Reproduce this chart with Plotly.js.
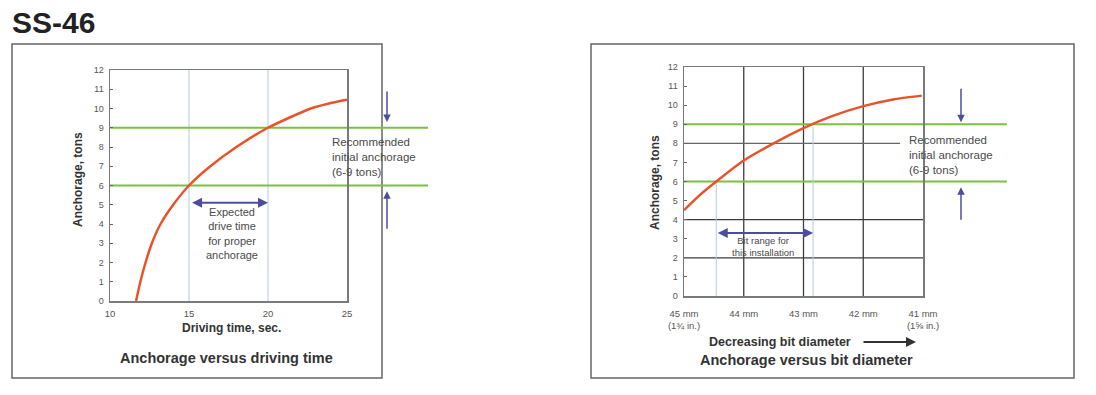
<!DOCTYPE html>
<html>
<head>
<meta charset="utf-8">
<script src="https://cdn.plot.ly/plotly-3.0.1.min.js"></script>
<style>html,body{margin:0;padding:0;background:#fff;}#chart{width:1096px;height:395px;}</style>
</head>
<body>
<div id="chart"></div>
<script>
// ---------- data ----------
const pageTitle = 'SS-46';

// Left chart: anchorage vs driving time
const driveTime = [11.65, 11.92, 12.25, 12.65, 13.2, 14.0, 15.0, 16.35, 18.0, 20.0, 22.7, 23.8, 25.0];
const driveAnchorage = [0, 1, 2, 3, 4, 5, 6, 7, 8, 9, 10, 10.25, 10.45];
const driveTicks = [10, 15, 20, 25];
const driveRangeMarks = [15, 20];          // expected drive time window
const driveWindowArrow = [15.1, 20.0];

// Right chart: anchorage vs bit diameter
const bitDiameter = [45, 44.75, 44.46, 44.0, 43.5, 43.0, 42.5, 42.0, 41.5, 41.02];
const bitAnchorage = [4.5, 5.25, 6.0, 7.1, 8.0, 8.8, 9.45, 9.95, 10.3, 10.5];
const bitTickVals = [45, 44, 43, 42, 41];
const bitTickText = ['45 mm<br>(1¾ in.)', '44 mm', '43 mm', '42 mm', '41 mm<br>(1⅝ in.)'];
const bitRange = [44.46, 42.84];
const bitRangeTop = [6.0, 8.85];
const bitGridX = [44, 43, 42];
const bitGridY = [2, 4, 8];

const anchorTicks = [0,1,2,3,4,5,6,7,8,9,10,11,12];
const recommendedRange = [6, 9];

// ---------- styling ----------
const W = 1096, H = 395;
const px = v => v / W;
const py = v => 1 - v / H;
const FONT = 'Liberation Sans, Arial, sans-serif';
const GREEN = '#7cc043';
const CURVE = '#e9532b';
const ARROW = '#4d4d9e';
const LIGHTBLUE = '#b3c8e4';
const TXT = '#4a4a4a';

function yAxis(domain) {
  return {
    domain: domain, range: [0, 12], tickvals: anchorTicks, ticks: 'inside', ticklen: 3,
    tickcolor: '#666', showgrid: false, zeroline: false, showline: true, mirror: true,
    linecolor: '#7a7a7a', linewidth: 1.5, tickfont: {family: FONT, size: 9, color: '#555'},
    ticklabelstandoff: 3, fixedrange: true
  };
}

const traces = [
  {x: driveTime, y: driveAnchorage, xaxis: 'x', yaxis: 'y', mode: 'lines',
   line: {color: CURVE, width: 2.5, shape: 'spline', smoothing: 0.6}, hoverinfo: 'skip'},
  {x: bitDiameter, y: bitAnchorage, xaxis: 'x2', yaxis: 'y2', mode: 'lines',
   line: {color: CURVE, width: 2.5, shape: 'spline', smoothing: 0.6}, hoverinfo: 'skip'}
];

const shapes = [];
// panel frames
shapes.push({type: 'rect', xref: 'paper', yref: 'paper', x0: px(12), x1: px(382), y0: py(378), y1: py(44),
             line: {color: '#666', width: 1.5}, layer: 'below'});
shapes.push({type: 'rect', xref: 'paper', yref: 'paper', x0: px(591), x1: px(1074), y0: py(378), y1: py(44),
             line: {color: '#666', width: 1.5}, layer: 'below'});
// left: expected drive-time verticals
driveRangeMarks.forEach(v => shapes.push({type: 'line', xref: 'x', yref: 'y domain', x0: v, x1: v, y0: 0, y1: 1,
  line: {color: LIGHTBLUE, width: 1}, layer: 'below'}));
// right: dark grid
bitGridX.forEach(v => shapes.push({type: 'line', xref: 'x2', yref: 'y2 domain', x0: v, x1: v, y0: 0, y1: 1,
  line: {color: '#3c3c3c', width: 1.3}, layer: 'below'}));
bitGridY.forEach(v => shapes.push({type: 'line', xref: 'x2 domain', yref: 'y2', x0: 0, x1: v === 8 ? 0.904 : 1, y0: v, y1: v,
  line: {color: v === 8 ? '#666' : '#3c3c3c', width: 1.3}, layer: 'below'}));
// right: bit range verticals
bitRange.forEach((v, i) => shapes.push({type: 'line', xref: 'x2', yref: 'y2', x0: v, x1: v, y0: 0, y1: bitRangeTop[i],
  line: {color: LIGHTBLUE, width: 1}, layer: 'below'}));
// recommended range green lines (extend beyond plots)
recommendedRange.forEach(v => {
  shapes.push({type: 'line', xref: 'x domain', yref: 'y', x0: 0, x1: 1.342, y0: v, y1: v,
    line: {color: GREEN, width: 2}, layer: 'below'});
  shapes.push({type: 'line', xref: 'x2 domain', yref: 'y2', x0: 0, x1: 1.351, y0: v, y1: v,
    line: {color: GREEN, width: 2}, layer: 'below'});
});

const ann = [];
function txt(text, x, y, opts) {
  return Object.assign({text: text, xref: 'paper', yref: 'paper', x: px(x), y: py(y),
    xanchor: 'center', yanchor: 'middle', showarrow: false}, opts);
}
ann.push(txt('<b>' + pageTitle + '</b>', 10, 23, {xanchor: 'left', font: {family: FONT, size: 30, color: '#222'}}));
// left chart texts
ann.push(txt('<b>Anchorage, tons</b>', 78, 180, {textangle: -90, font: {family: FONT, size: 12, color: '#333'}}));
ann.push(txt('<b>Driving time, sec.</b>', 231, 328, {font: {family: FONT, size: 12, color: '#333'}}));
ann.push(txt('<b>Anchorage versus driving time</b>', 226, 358, {font: {family: FONT, size: 14.5, color: '#333'}}));
ann.push(txt('Recommended<br>initial anchorage<br>(6-9 tons)', 330, 157,
  {xanchor: 'left', align: 'left', font: {family: FONT, size: 11.5, color: TXT}}));
ann.push({text: 'Expected<br>drive time<br>for proper<br>anchorage', xref: 'x', yref: 'y', x: 17.7, y: 3.5,
  xanchor: 'center', yanchor: 'middle', align: 'center', showarrow: false, font: {family: FONT, size: 11, color: TXT}});
ann.push({text: '', xref: 'x', yref: 'y', x: driveWindowArrow[1], y: 5.1, axref: 'x', ayref: 'y',
  ax: driveWindowArrow[0], ay: 5.1, showarrow: true, arrowhead: 2, startarrowhead: 2, arrowside: 'end+start',
  arrowsize: 1, arrowwidth: 2, arrowcolor: ARROW, standoff: 0, startstandoff: 0});
ann.push({text: '', xref: 'paper', yref: 'y', x: px(387), y: 9.3, ax: 0, ay: -32, showarrow: true,
  arrowhead: 2, arrowsize: 1, arrowwidth: 1.5, arrowcolor: ARROW, standoff: 0});
ann.push({text: '', xref: 'paper', yref: 'y', x: px(387), y: 5.7, ax: 0, ay: 39, showarrow: true,
  arrowhead: 2, arrowsize: 1, arrowwidth: 1.5, arrowcolor: ARROW, standoff: 0});
// right chart texts
ann.push(txt('<b>Anchorage, tons</b>', 655, 183, {textangle: -90, font: {family: FONT, size: 12, color: '#333'}}));
ann.push(txt('<b>Decreasing bit diameter</b>', 780, 342, {font: {family: FONT, size: 12.5, color: '#333'}}));
ann.push({text: '', xref: 'paper', yref: 'paper', x: px(916), y: py(342), ax: -54, ay: 0, showarrow: true,
  arrowhead: 2, arrowsize: 1, arrowwidth: 2, arrowcolor: '#333', standoff: 0});
ann.push(txt('<b>Anchorage versus bit diameter</b>', 806, 360, {font: {family: FONT, size: 14.5, color: '#333'}}));
ann.push(txt('Recommended<br>initial anchorage<br>(6-9 tons)', 907, 155,
  {xanchor: 'left', align: 'left', font: {family: FONT, size: 11.5, color: TXT}}));
ann.push({text: 'Bit range for<br>this installation', xref: 'x2', yref: 'y2', x: 43.68, y: 2.6,
  xanchor: 'center', yanchor: 'middle', align: 'center', showarrow: false, font: {family: FONT, size: 9.5, color: TXT}});
ann.push({text: '', xref: 'x2', yref: 'y2', x: bitRange[1], y: 3.3, axref: 'x2', ayref: 'y2',
  ax: bitRange[0], ay: 3.3, showarrow: true, arrowhead: 2, startarrowhead: 2, arrowside: 'end+start',
  arrowsize: 1, arrowwidth: 2, arrowcolor: ARROW, standoff: 0, startstandoff: 0});
ann.push({text: '', xref: 'paper', yref: 'y2', x: px(961), y: 9.1, ax: 0, ay: -35, showarrow: true,
  arrowhead: 2, arrowsize: 1, arrowwidth: 1.5, arrowcolor: ARROW, standoff: 0});
ann.push({text: '', xref: 'paper', yref: 'y2', x: px(961), y: 5.7, ax: 0, ay: 34, showarrow: true,
  arrowhead: 2, arrowsize: 1, arrowwidth: 1.5, arrowcolor: ARROW, standoff: 0});

const layout = {
  width: W, height: H, margin: {l: 0, r: 0, t: 0, b: 0},
  paper_bgcolor: '#fff', plot_bgcolor: '#fff', showlegend: false,
  font: {family: FONT, color: '#444'},
  xaxis: {domain: [px(110), px(347)], range: [10, 25], tickvals: driveTicks, ticks: '', showgrid: false,
    zeroline: false, showline: true, mirror: true, linecolor: '#7a7a7a', linewidth: 1.5,
    tickfont: {family: FONT, size: 9.5, color: '#555'}, ticklabelstandoff: 3, anchor: 'y', fixedrange: true},
  yaxis: Object.assign(yAxis([py(301), py(70)]), {anchor: 'x'}),
  xaxis2: {domain: [px(684), px(923)], range: [45, 41], tickvals: bitTickVals, ticktext: bitTickText, ticks: '',
    showgrid: false, zeroline: false, showline: true, mirror: true, linecolor: '#7a7a7a', linewidth: 1.5,
    tickfont: {family: FONT, size: 9.5, color: '#555'}, ticklabelstandoff: 8, anchor: 'y2', fixedrange: true},
  yaxis2: Object.assign(yAxis([py(296), py(67)]), {anchor: 'x2'}),
  shapes: shapes,
  annotations: ann
};

Plotly.newPlot('chart', traces, layout, {staticPlot: true, displayModeBar: false});
</script>
</body>
</html>
